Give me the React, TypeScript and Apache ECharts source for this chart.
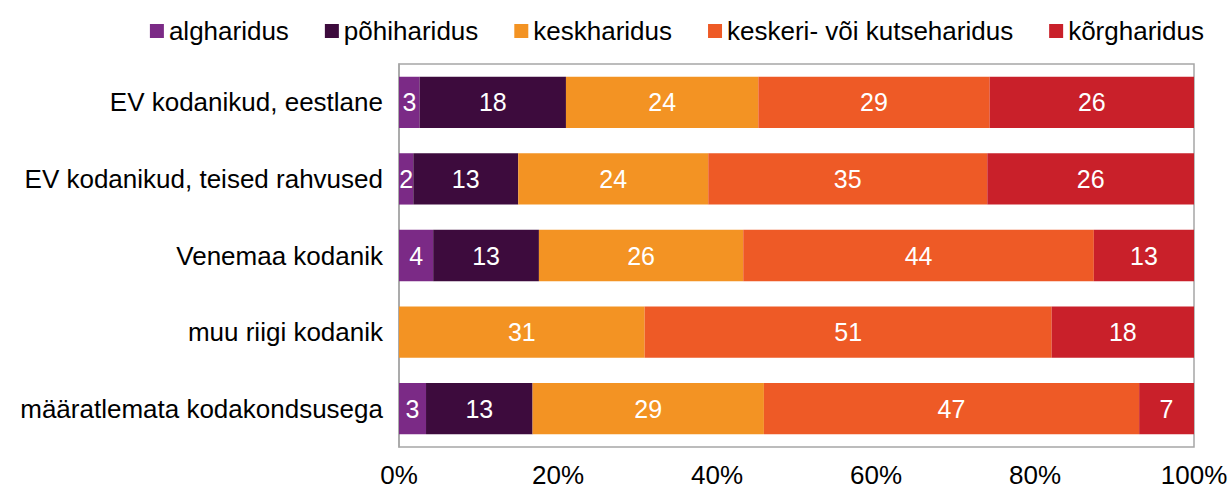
import React, { useEffect, useRef } from "react";
import * as echarts from "echarts";

const categories = [
  "EV kodanikud, eestlane",
  "EV kodanikud, teised rahvused",
  "Venemaa kodanik",
  "muu riigi kodanik",
  "määratlemata kodakondsusega",
];
const seriesNames = ["algharidus", "põhiharidus", "keskharidus", "keskeri- või kutseharidus", "kõrgharidus"];
const colors = ["#7B2A86", "#3D0B3D", "#F39323", "#EE5A26", "#C9202A"];
const algharidus = [2.6, 1.8, 4.3, 0, 3.4];
const pohiharidus = [18.4, 13.2, 13.3, 0, 13.4];
const keskharidus = [24.2, 23.9, 25.7, 30.9, 29.1];
const keskeri = [29.1, 35.1, 44.1, 51.2, 47.2];
const korgharidus = [25.7, 26.0, 12.6, 17.9, 6.9];
const xTicks = [0, 20, 40, 60, 80, 100];

const FONT = "Liberation Sans, Arial, sans-serif";

export default function App() {
  const ref = useRef<HTMLDivElement>(null);
  useEffect(() => {
    if (!ref.current) return;
    const chart = echarts.init(ref.current, undefined, { renderer: "svg" });
    const data = [algharidus, pohiharidus, keskharidus, keskeri, korgharidus];
    chart.setOption({
      animation: false,
      textStyle: { fontFamily: FONT },
      legend: {
        right: 20,
        top: 13,
        itemWidth: 14,
        itemHeight: 14,
        itemGap: 36,
        icon: "rect",
        textStyle: { fontSize: 26, color: "#000", fontFamily: FONT },
        data: seriesNames,
      },
      grid: {
        left: 399,
        right: 35,
        top: 64,
        bottom: 43,
        outerBoundsMode: "none",
        show: true,
        borderColor: "#a6a6a6",
        borderWidth: 1.5,
        backgroundColor: "transparent",
      },
      xAxis: {
        type: "value",
        min: 0,
        max: 100,
        interval: 20,
        axisLine: { show: false },
        axisTick: { show: false },
        splitLine: { show: false },
        axisLabel: {
          fontSize: 26,
          color: "#000",
          margin: 15,
          fontFamily: FONT,
          formatter: (v: number) => (xTicks.includes(v) ? v + "%" : ""),
        },
      },
      yAxis: {
        type: "category",
        inverse: true,
        data: categories,
        axisLine: { show: true, lineStyle: { color: "#a6a6a6", width: 1.5 } },
        axisTick: { show: false },
        axisLabel: { fontSize: 26, color: "#000", margin: 16, fontFamily: FONT },
      },
      series: seriesNames.map((name, i) => ({
        name,
        type: "bar",
        stack: "total",
        barCategoryGap: "33%",
        itemStyle: { color: colors[i] },
        label: {
          show: true,
          position: "inside",
          color: "#fff",
          fontSize: 25,
          fontFamily: FONT,
          formatter: (p: any) => (p.value > 0 ? String(Math.round(p.value)) : ""),
        },
        data: data[i],
      })),
    });
    return () => chart.dispose();
  }, []);
  return (
    <div
      ref={ref}
      style={{ position: "absolute", left: 0, top: 0, width: 1229, height: 490 }}
    />
  );
}
